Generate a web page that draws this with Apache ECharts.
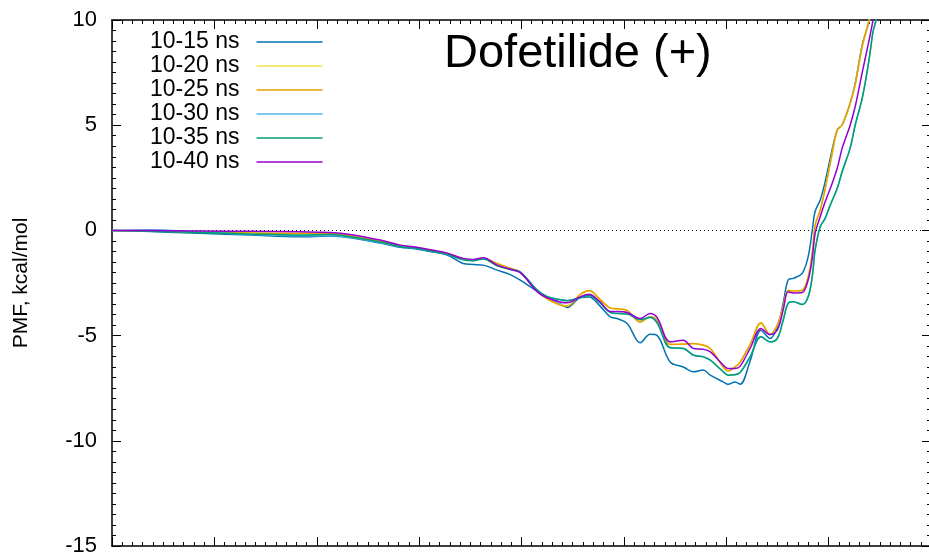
<!DOCTYPE html>
<html>
<head>
<meta charset="utf-8">
<script src="https://cdn.jsdelivr.net/npm/echarts@6/dist/echarts.min.js"></script>
<style>
  html, body { margin: 0; padding: 0; background: #fff; }
  #chart { width: 929px; height: 555px; }
</style>
</head>
<body>
<div id="chart"></div>
<script>
// Reaction coordinate samples shared by every PMF curve
const xs = [0, 1.87, 4.31, 6.75, 9.19, 10.66, 11.63, 13.10, 14.08, 14.71, 15.54, 16.37, 17.15, 17.64,
  18.13, 18.81, 19.45, 19.94, 20.77, 21.25, 21.89, 22.23, 22.86, 23.30, 23.84, 24.33, 24.67, 25.16,
  25.80, 26.28, 26.63, 27.26, 27.90, 28.39, 28.87, 29.22, 29.85, 30.09, 30.43, 30.68, 31.17, 31.70,
  32.14, 32.49, 32.78, 33.02, 33.27, 33.71, 34.00, 34.20, 34.34, 34.59, 34.83, 35.08, 35.42, 35.66,
  36.05, 36.30, 36.64, 36.88, 37.03, 37.17, 37.32, 37.51];

// PMF (kcal/mol) for each sampling window
const pmf10to15 = [0, -0.05, -0.14, -0.22, -0.30, -0.27, -0.35, -0.60, -0.80, -0.86, -1.00, -1.17, -1.57, -1.62,
  -1.65, -1.89, -2.10, -2.36, -2.90, -3.20, -3.50, -3.66, -3.20, -3.16, -3.60, -4.11, -4.19, -4.42,
  -5.34, -4.94, -5.00, -6.25, -6.49, -6.72, -6.64, -6.88, -7.20, -7.31, -7.20, -7.31, -6.20, -4.74,
  -5.14, -4.60, -3.47, -2.36, -2.28, -2.04, -1.25, 0.00, 0.90, 1.45, 2.31, 3.42, 4.77, 5.01,
  6.04, 7.00, 8.81, 9.60, 10.10, 10.80, 11.40, 12.20];
const pmf10to20 = [0, -0.02, -0.07, -0.11, -0.14, -0.14, -0.24, -0.49, -0.71, -0.79, -0.94, -1.10, -1.34, -1.39,
  -1.33, -1.58, -1.81, -1.99, -2.89, -3.24, -3.53, -3.58, -3.06, -2.88, -3.29, -3.69, -3.73, -3.82,
  -4.34, -4.12, -4.29, -5.41, -5.41, -5.39, -5.46, -5.62, -6.48, -6.66, -6.50, -6.27, -5.42, -4.42,
  -4.96, -4.52, -3.67, -2.86, -2.89, -2.85, -2.22, -1.12, 0.22, 0.95, 1.96, 3.17, 4.74, 5.00,
  6.02, 6.93, 8.72, 9.62, 10.18, 10.88, 11.50, 12.30];
const pmf10to25 = [0, -0.03, -0.08, -0.12, -0.15, -0.15, -0.25, -0.50, -0.72, -0.80, -0.95, -1.10, -1.35, -1.40,
  -1.33, -1.57, -1.80, -1.98, -2.88, -3.25, -3.55, -3.60, -3.05, -2.86, -3.28, -3.68, -3.72, -3.80,
  -4.36, -4.11, -4.28, -5.42, -5.40, -5.37, -5.45, -5.61, -6.49, -6.68, -6.49, -6.25, -5.40, -4.39,
  -4.95, -4.50, -3.65, -2.84, -2.88, -2.84, -2.20, -1.09, 0.25, 0.97, 1.99, 3.20, 4.77, 5.01,
  6.04, 6.95, 8.75, 9.65, 10.20, 10.90, 11.50, 12.30];
const pmf10to30 = [0, 0.03, -0.08, -0.18, -0.26, -0.24, -0.32, -0.57, -0.77, -0.82, -0.97, -1.13, -1.39, -1.43,
  -1.35, -1.67, -1.85, -1.97, -2.84, -3.14, -3.29, -3.33, -3.19, -3.09, -3.44, -3.89, -3.94, -3.96,
  -4.24, -4.13, -4.39, -5.57, -5.60, -5.92, -6.00, -6.16, -6.71, -6.87, -6.85, -6.75, -5.99, -5.05,
  -5.29, -5.13, -4.26, -3.46, -3.38, -3.51, -3.15, -2.19, -0.93, 0.18, 0.58, 1.21, 2.00, 2.80,
  3.91, 5.02, 6.29, 7.55, 8.50, 9.46, 10.00, 10.90];
const pmf10to35 = [0, -0.04, -0.10, -0.17, -0.22, -0.20, -0.30, -0.55, -0.76, -0.83, -0.98, -1.14, -1.40, -1.44,
  -1.36, -1.68, -1.86, -1.98, -2.84, -3.15, -3.30, -3.34, -3.20, -3.10, -3.45, -3.90, -3.95, -3.97,
  -4.25, -4.14, -4.40, -5.58, -5.61, -5.93, -6.01, -6.17, -6.72, -6.88, -6.86, -6.76, -6.00, -5.06,
  -5.30, -5.14, -4.27, -3.47, -3.39, -3.52, -3.16, -2.20, -0.94, 0.17, 0.57, 1.20, 1.99, 2.79,
  3.90, 5.01, 6.28, 7.54, 8.49, 9.45, 10.00, 10.90];
const pmf10to40 = [0, 0.00, -0.03, -0.04, -0.07, -0.10, -0.19, -0.46, -0.70, -0.78, -0.92, -1.08, -1.33, -1.38,
  -1.30, -1.65, -1.85, -2.01, -2.92, -3.20, -3.40, -3.44, -3.16, -3.04, -3.40, -3.85, -3.85, -3.90,
  -4.19, -3.95, -4.15, -5.30, -5.22, -5.61, -5.65, -5.77, -6.40, -6.56, -6.56, -6.45, -5.60, -4.66,
  -4.95, -4.74, -3.79, -2.92, -2.97, -2.95, -2.36, -1.33, -0.15, 0.65, 1.36, 1.99, 2.95, 3.90,
  5.00, 5.90, 7.50, 8.60, 9.30, 10.00, 10.70, 11.50];

const seriesNames = ['10-15 ns', '10-20 ns', '10-25 ns', '10-30 ns', '10-35 ns', '10-40 ns'];
const seriesValues = [pmf10to15, pmf10to20, pmf10to25, pmf10to30, pmf10to35, pmf10to40];
const seriesColors = ['#0072b2', '#f0e442', '#e69f00', '#56b4e9', '#009e73', '#9400d3'];

const yTicks = { min: -15, max: 10, step: 5 };
const xTicks = { min: 0, max: 40, step: 5 };

const FONT = "'Liberation Sans', Arial, Helvetica, sans-serif";

function frameAxis(extra) {
  return Object.assign({
    type: 'value',
    axisLine: { show: true, onZero: false, lineStyle: { color: '#000', width: 1.5 } },
    axisTick: { show: true, inside: true, length: 9, lineStyle: { color: '#000', width: 1 } },
    minorTick: { show: true, splitNumber: 10, length: 4, lineStyle: { color: '#000', width: 1 } },
    axisLabel: { show: false },
    splitLine: { show: false },
    minorSplitLine: { show: false }
  }, extra);
}

const series = seriesNames.map((name, i) => ({
  name: name,
  type: 'line',
  data: xs.map((x, k) => [x, seriesValues[i][k]]),
  showSymbol: false,
  symbol: 'none',
  smooth: 0.35,
  clip: true,
  lineStyle: { color: seriesColors[i], width: 1.5 },
  itemStyle: { color: seriesColors[i] },
  z: 3 + i
}));

// dotted zero reference line
series[0].markLine = {
  silent: true,
  symbol: 'none',
  label: { show: false },
  lineStyle: { color: '#000', width: 1, type: [1, 3] },
  data: [{ yAxis: 0 }],
  z: 1
};

const chart = echarts.init(document.getElementById('chart'), null, { renderer: 'canvas' });
chart.setOption({
  animation: false,
  backgroundColor: '#fff',
  title: {
    text: 'Dofetilide (+)',
    left: 444,
    top: 31,
    padding: 0,
    textStyle: { fontFamily: FONT, fontSize: 47, fontWeight: 'normal', color: '#000' }
  },
  legend: {
    orient: 'vertical',
    left: 150,
    top: 30,
    padding: 0,
    itemGap: 0,
    align: 'right',
    icon: 'rect',
    itemWidth: 66,
    itemHeight: 1.5,
    data: seriesNames,
    textStyle: { fontFamily: FONT, fontSize: 23, color: '#000', lineHeight: 24, padding: [0, 12, 0, 0] }
  },
  grid: { left: 112, top: 20, width: 819, height: 526, containLabel: false, outerBoundsMode: 'none' },
  xAxis: [
    frameAxis({ min: xTicks.min, max: xTicks.max, interval: xTicks.step, position: 'bottom' }),
    frameAxis({ min: xTicks.min, max: xTicks.max, interval: xTicks.step, position: 'top' })
  ],
  yAxis: [
    frameAxis({
      min: yTicks.min, max: yTicks.max, interval: yTicks.step, position: 'left',
      axisLabel: { show: true, margin: 15, fontFamily: FONT, fontSize: 22, color: '#000' },
      name: 'PMF, kcal/mol',
      nameLocation: 'middle',
      nameGap: 80,
      nameTextStyle: { fontFamily: FONT, fontSize: 21, color: '#000' }
    }),
    frameAxis({ min: yTicks.min, max: yTicks.max, interval: yTicks.step, position: 'right' })
  ],
  series: series
});
</script>
</body>
</html>
